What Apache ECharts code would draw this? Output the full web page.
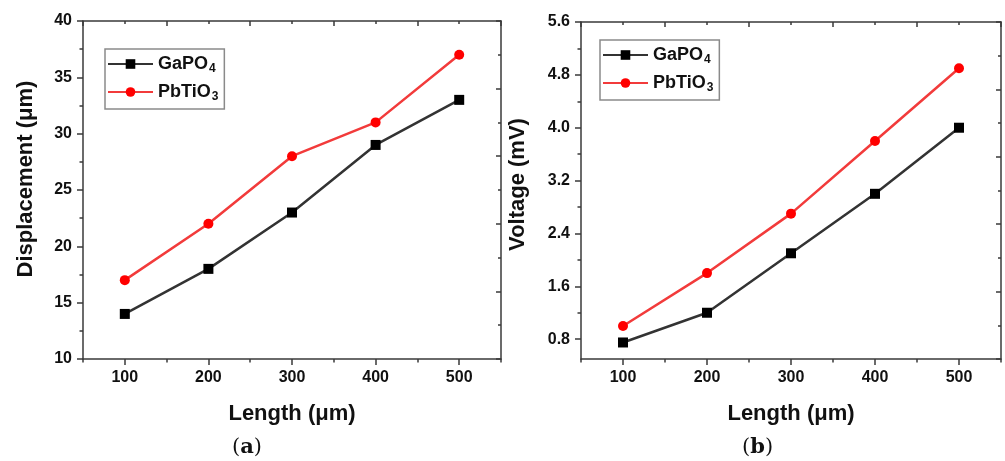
<!DOCTYPE html>
<html>
<head>
<meta charset="utf-8">
<script src="https://cdn.jsdelivr.net/npm/echarts@6/dist/echarts.min.js"></script>
<style>
  html, body { margin: 0; padding: 0; background: #fff; }
  #chart { width: 1005px; height: 461px; }
</style>
</head>
<body>
<div id="chart"></div>
<script>
// Beam length (µm) shared by both panels
const lengths = [100, 200, 300, 400, 500];

// (a) tip displacement (µm)
const dispGaPO4 = [14, 18, 23, 29, 33];
const dispPbTiO3 = [17, 22, 28, 31, 37];

// (b) output voltage (mV)
const voltGaPO4 = [0.75, 1.2, 2.1, 3.0, 4.0];
const voltPbTiO3 = [1.0, 1.8, 2.7, 3.8, 4.9];

// Tick positions
const lengthTicks = [100, 200, 300, 400, 500];
const lengthMinorTicks = [50, 150, 250, 350, 450, 550];
const voltTicks = [0.8, 1.6, 2.4, 3.2, 4.0, 4.8, 5.6];
const voltMinorTicks = [1.2, 2.0, 2.8, 3.6, 4.4, 5.2];

const FONT = '"Liberation Sans", Arial, sans-serif';
const AXIS_COLOR = '#3a3a3a';
const pairs = (xs, ys) => xs.map((x, i) => [x, ys[i]]);

const grids = [
  { left: 83, top: 21, width: 418, height: 338 },
  { left: 581, top: 22, width: 420, height: 337 }
];

function xAxesFor(gi, title) {
  return [
    { // main bottom axis with labels
      type: 'value', gridIndex: gi, position: 'bottom', min: 50, max: 550,
      name: title, nameLocation: 'middle', nameGap: 44,
      nameTextStyle: { fontFamily: FONT, fontWeight: 'bold', fontSize: 22, color: '#111' },
      axisLine: { show: true, lineStyle: { color: AXIS_COLOR, width: 1.5 } },
      axisTick: { show: true, inside: false, length: 6, customValues: lengthTicks,
                  lineStyle: { color: AXIS_COLOR, width: 1.5 } },
      axisLabel: { show: true, customValues: lengthTicks, margin: 11,
                   fontFamily: FONT, fontWeight: 'bold', fontSize: 16, color: '#111' },
      splitLine: { show: false }
    },
    { // minor ticks on the bottom axis
      type: 'value', gridIndex: gi, position: 'bottom', min: 50, max: 550,
      axisLine: { show: false },
      axisTick: { show: true, inside: false, length: 3.5, customValues: lengthMinorTicks,
                  lineStyle: { color: AXIS_COLOR, width: 1.5 } },
      axisLabel: { show: false }, splitLine: { show: false }
    },
    { // top frame
      type: 'value', gridIndex: gi, position: 'top', min: 0, max: 10, interval: 2,
      axisLine: { show: true, lineStyle: { color: AXIS_COLOR, width: 1.5 } },
      axisTick: { show: true, inside: true, length: 5, lineStyle: { color: AXIS_COLOR, width: 1.5 } },
      minorTick: { show: true, splitNumber: 2, length: 3, lineStyle: { color: AXIS_COLOR, width: 1.5 } },
      axisLabel: { show: false }, splitLine: { show: false }, minorSplitLine: { show: false }
    }
  ];
}

function rightFrame(gi) {
  return {
    type: 'value', gridIndex: gi, position: 'right', min: 0, max: 10, interval: 2,
    axisLine: { show: true, lineStyle: { color: AXIS_COLOR, width: 1.5 } },
    axisTick: { show: true, inside: true, length: 5, lineStyle: { color: AXIS_COLOR, width: 1.5 } },
    minorTick: { show: true, splitNumber: 2, length: 3, lineStyle: { color: AXIS_COLOR, width: 1.5 } },
    axisLabel: { show: false }, splitLine: { show: false }, minorSplitLine: { show: false }
  };
}

const yTitleStyle = { fontFamily: FONT, fontWeight: 'bold', fontSize: 22, color: '#111' };
const yLabelStyle = { fontFamily: FONT, fontWeight: 'bold', fontSize: 16, color: '#111' };

const yAxes = [
  { // (a) displacement axis
    type: 'value', gridIndex: 0, position: 'left', min: 10, max: 40, interval: 5,
    name: 'Displacement (μm)', nameLocation: 'middle', nameGap: 46,
    nameTextStyle: Object.assign({ padding: [0, 0, 0, 22] }, yTitleStyle),
    axisLine: { show: true, lineStyle: { color: AXIS_COLOR, width: 1.5 } },
    axisTick: { show: true, inside: false, length: 6, lineStyle: { color: AXIS_COLOR, width: 1.5 } },
    minorTick: { show: true, splitNumber: 2, length: 3.5, lineStyle: { color: AXIS_COLOR, width: 1.5 } },
    axisLabel: Object.assign({ margin: 11 }, yLabelStyle),
    splitLine: { show: false }, minorSplitLine: { show: false }
  },
  rightFrame(0),
  { // (b) voltage axis
    type: 'value', gridIndex: 1, position: 'left', min: 0.5, max: 5.6,
    name: 'Voltage (mV)', nameLocation: 'middle', nameGap: 52,
    nameTextStyle: Object.assign({ padding: [0, 0, 0, 12] }, yTitleStyle),
    axisLine: { show: true, lineStyle: { color: AXIS_COLOR, width: 1.5 } },
    axisTick: { show: true, inside: false, length: 6, customValues: voltTicks,
                lineStyle: { color: AXIS_COLOR, width: 1.5 } },
    axisLabel: Object.assign({ margin: 11, customValues: voltTicks,
                               formatter: v => v.toFixed(1) }, yLabelStyle),
    splitLine: { show: false }
  },
  { // minor ticks on the voltage axis
    type: 'value', gridIndex: 1, position: 'left', min: 0.5, max: 5.6,
    axisLine: { show: false },
    axisTick: { show: true, inside: false, length: 3.5, customValues: voltMinorTicks,
                lineStyle: { color: AXIS_COLOR, width: 1.5 } },
    axisLabel: { show: false }, splitLine: { show: false }
  },
  rightFrame(1)
];

const legendRich = {
  m: { fontFamily: FONT, fontWeight: 'bold', fontSize: 18, color: '#111' },
  s: { fontFamily: FONT, fontWeight: 'bold', fontSize: 12, color: '#111', padding: [10, 0, 0, 1] }
};
const legendFormatter = name => name === 'GaPO4' ? '{m|GaPO}{s|4}' : '{m|PbTiO}{s|3}';

function legendFor(left, top) {
  return {
    orient: 'vertical', left: left, top: top,
    itemWidth: 45, itemHeight: 12, itemGap: 8,
    padding: [6, 6, 6, 2],
    borderColor: '#8a8a8a', borderWidth: 1.5, backgroundColor: '#fff',
    formatter: legendFormatter,
    textStyle: { rich: legendRich },
    selectedMode: false,
    data: ['GaPO4', 'PbTiO3']
  };
}

const blackSeries = (name, xi, yi, data) => ({
  name: name, type: 'line', xAxisIndex: xi, yAxisIndex: yi, data: data,
  symbol: 'rect', symbolSize: 10,
  itemStyle: { color: '#000' }, lineStyle: { color: '#333', width: 2.5 },
  animation: false
});
const redSeries = (name, xi, yi, data) => ({
  name: name, type: 'line', xAxisIndex: xi, yAxisIndex: yi, data: data,
  symbol: 'circle', symbolSize: 10,
  itemStyle: { color: '#ff0000' }, lineStyle: { color: '#f23b3b', width: 2.5 },
  animation: false
});

const caption = (txt, x) => ({
  type: 'text', left: x, top: 437,
  style: {
    text: '{p|(}{b|' + txt + '}{p|)}',
    rich: {
      p: { fontFamily: '"DejaVu Serif", "Liberation Serif", serif', fontSize: 21, fill: '#111' },
      b: { fontFamily: '"DejaVu Serif", "Liberation Serif", serif', fontWeight: 'bold', fontSize: 21, fill: '#111' }
    }
  }
});

const chart = echarts.init(document.getElementById('chart'), null, { renderer: 'canvas' });
chart.setOption({
  backgroundColor: '#fff',
  animation: false,
  grid: grids,
  xAxis: xAxesFor(0, 'Length (μm)').concat(xAxesFor(1, 'Length (μm)')),
  yAxis: yAxes,
  legend: [
    legendFor(105, 49),
    legendFor(600, 40)
  ],
  series: [
    blackSeries('GaPO4', 0, 0, pairs(lengths, dispGaPO4)),
    redSeries('PbTiO3', 0, 0, pairs(lengths, dispPbTiO3)),
    blackSeries('GaPO4', 3, 2, pairs(lengths, voltGaPO4)),
    redSeries('PbTiO3', 3, 2, pairs(lengths, voltPbTiO3))
  ],
  graphic: [
    caption('a', 232),
    caption('b', 742)
  ]
});
</script>
</body>
</html>
